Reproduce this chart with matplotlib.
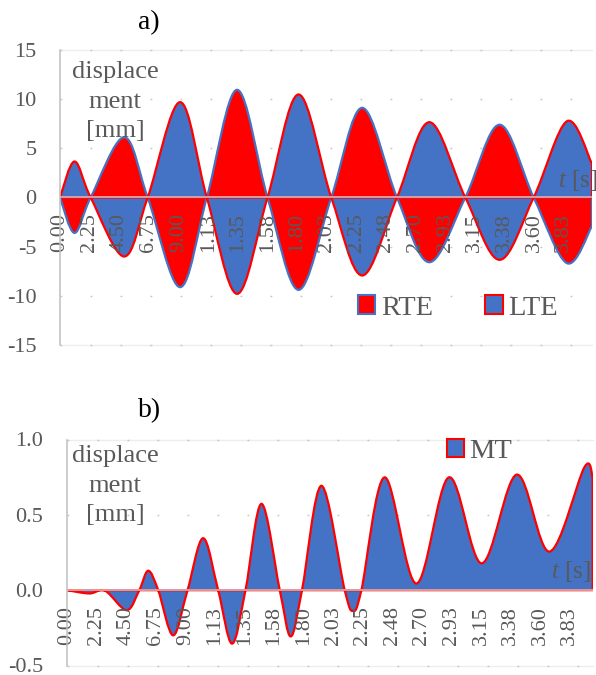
import numpy as np
import matplotlib
matplotlib.use("Agg")
import matplotlib.pyplot as plt
from matplotlib.path import Path
from matplotlib.patches import PathPatch, Patch

W, H, DPI = 596, 675, 100

# ---- data -------------------------------------------------------------
tick_labels = ["0.00", "2.25", "4.50", "6.75", "9.00", "1.13", "1.35", "1.58",
               "1.80", "2.03", "2.25", "2.48", "2.70", "2.93", "3.15", "3.38",
               "3.60", "3.83"]
tick_step = 0.225  # seconds between labelled categories

# panel a) : time [s] and displacement [mm]
t_a = [0.0, 0.11, 0.233, 0.487, 0.666, 0.912, 1.115, 1.345, 1.576, 1.812,
       2.06, 2.295, 2.559, 2.805, 3.078, 3.338, 3.597, 3.85, 4.04]
rte = [0.0, -3.6, 0.0, 6.13, 0.0, -9.12, 0.0, 10.95, 0.0, -9.39,
       0.0, 9.12, 0.0, -6.58, 0.0, 7.40, 0.0, -6.68, -2.9]
lte = [0.0, 3.66, 0.0, -6.0, 0.0, 9.70, 0.0, -9.80, 0.0, 10.48,
       0.0, -7.93, 0.0, 7.66, 0.0, -6.34, 0.0, 7.76, 3.43]

# panel b) : time [s] and displacement [mm]
t_b = [0.0, 0.17, 0.29, 0.454, 0.55, 0.618, 0.694, 0.808, 0.917, 1.036,
       1.15, 1.256, 1.358, 1.48, 1.619, 1.702, 1.788, 1.936, 2.113, 2.176,
       2.24, 2.417, 2.658, 2.906, 3.156, 3.422, 3.671, 3.937, 4.0]
mt = [0.0, -0.022, -0.004, -0.133, 0.0, 0.129, 0.0, -0.300, 0.0, 0.345,
      0.0, -0.355, 0.0, 0.573, 0.0, -0.307, 0.0, 0.693, 0.0, -0.138,
      0.0, 0.749, 0.044, 0.749, 0.178, 0.767, 0.256, 0.816, 0.745]

yticks_a = [-15, -10, -5, 0, 5, 10, 15]
yticks_b = [-0.5, 0.0, 0.5, 1.0]
ylabels_b = ["-0.5", "0.0", "0.5", "1.0"]

# ---- style ------------------------------------------------------------
BLUE = "#4472C4"
RED = "#FF0000"
TXT = "#595959"

plt.rcParams["font.family"] = ["Liberation Serif", "DejaVu Serif"]
plt.rcParams["mathtext.fontset"] = "custom"
plt.rcParams["mathtext.rm"] = "Liberation Serif"
plt.rcParams["mathtext.it"] = "Liberation Serif:italic"


def px(x, y):
    return x / W, 1 - y / H


def area_path(t, y):
    """Smoothed (Catmull-Rom as cubic Bezier) line closed down to zero."""
    pts = np.column_stack([t, y]).astype(float)
    ext = np.vstack([pts[0], pts, pts[-1]])
    verts = [pts[0]]
    codes = [Path.MOVETO]
    for i in range(len(pts) - 1):
        p0, p1, p2, p3 = ext[i], ext[i + 1], ext[i + 2], ext[i + 3]
        verts += [p1 + (p2 - p0) / 6, p2 - (p3 - p1) / 6, p2]
        codes += [Path.CURVE4] * 3
    verts += [(pts[-1, 0], 0.0), (pts[0, 0], 0.0), (pts[0, 0], 0.0)]
    codes += [Path.LINETO, Path.LINETO, Path.CLOSEPOLY]
    return Path(verts, codes)


def style_axes(ax, yt, ylab):
    lo, hi = yt[0], yt[-1]
    for s in ("top", "right", "bottom"):
        ax.spines[s].set_visible(False)
    ax.spines["bottom"].set_position(("data", 0))
    ax.spines["left"].set_color("#bfbfbf")
    ax.spines["left"].set_linewidth(1.1)
    ax.set_ylim(lo, hi)
    ax.set_yticks(yt)
    ax.set_yticklabels(ylab)
    ax.set_xticks(np.arange(len(tick_labels)) * tick_step)
    ax.set_xticklabels(tick_labels)
    ax.tick_params(axis="both", length=0, labelsize=16, labelcolor=TXT)
    ax.tick_params(axis="y", pad=17)
    ax.tick_params(axis="x", pad=11.5, labelrotation=90)
    for v in yt:
        if v == 0:
            continue
        ax.axhline(v, color="#c4c4c4", lw=1.0, linestyle=(0, (1.3, 20.3)),
                   zorder=0.5, clip_on=False)
    for v in (lo, hi):
        ax.axhline(v, color="#eeeeee", lw=1.0, zorder=0.4, clip_on=False)
    ax.set_facecolor("none")


fig = plt.figure(figsize=(W / DPI, H / DPI), dpi=DPI)

# ---- panel a) ----------------------------------------------------------
ax_a = fig.add_axes([60 / W, 1 - 345 / H, 532 / W, 295 / H])
ax_a.set_xlim(0, t_a[-1])
style_axes(ax_a, yticks_a, [f"{v:d}" for v in yticks_a])
ax_a.add_patch(PathPatch(area_path(t_a, rte), facecolor=RED, edgecolor=BLUE,
                         lw=1.6, joinstyle="round", zorder=1.0))
ax_a.add_patch(PathPatch(area_path(t_a, lte), facecolor=BLUE, edgecolor=RED,
                         lw=1.6, joinstyle="round", zorder=1.1))
ax_a.axhline(0, color="#d9d9d9", lw=1.3, alpha=0.75, zorder=1.2)

fig.legend(handles=[Patch(facecolor=RED, edgecolor=BLUE, lw=1.5, label="RTE"),
                    Patch(facecolor=BLUE, edgecolor=RED, lw=1.5, label="LTE")],
           loc="center left", bbox_to_anchor=px(358, 308), ncol=2,
           frameon=False, fontsize=20.5, handlelength=0.6, handleheight=0.6,
           handletextpad=0.2, columnspacing=1.85, borderpad=0,
           borderaxespad=0, labelcolor=TXT)

# ---- panel b) ----------------------------------------------------------
ax_b = fig.add_axes([67 / W, 1 - 665.5 / H, 525.7 / W, 226 / H])
ax_b.set_xlim(0, t_b[-1])
style_axes(ax_b, yticks_b, ylabels_b)
ax_b.add_patch(PathPatch(area_path(t_b, mt), facecolor=BLUE, edgecolor=RED,
                         lw=1.6, joinstyle="round", zorder=1.0))
ax_b.axhline(0, color="#d9d9d9", lw=1.3, alpha=0.75, zorder=1.2)

fig.legend(handles=[Patch(facecolor=BLUE, edgecolor=RED, lw=1.5, label="MT")],
           loc="center left", bbox_to_anchor=px(446.7, 451.7),
           frameon=False, fontsize=20.5, handlelength=0.6, handleheight=0.6,
           handletextpad=0.2, borderpad=0, borderaxespad=0, labelcolor=TXT)

# ---- texts -------------------------------------------------------------
fig.text(*px(149, 23), "a)", ha="center", va="center", fontsize=20, color="black")
fig.text(*px(150, 411), "b)", ha="center", va="center", fontsize=20, color="black")
for y in (101.5, 485.5):
    fig.text(*px(115, y), "displace\nment\n[mm]", ha="center", va="center",
             fontsize=19, color=TXT, linespacing=1.42, multialignment="center")
fig.text(*px(558, 180.5), r"$t$ [s]", ha="left", va="center", fontsize=18, color=TXT)
fig.text(*px(550.7, 572), r"$t$ [s]", ha="left", va="center", fontsize=18, color=TXT)

fig.savefig("out.png", dpi=DPI)
